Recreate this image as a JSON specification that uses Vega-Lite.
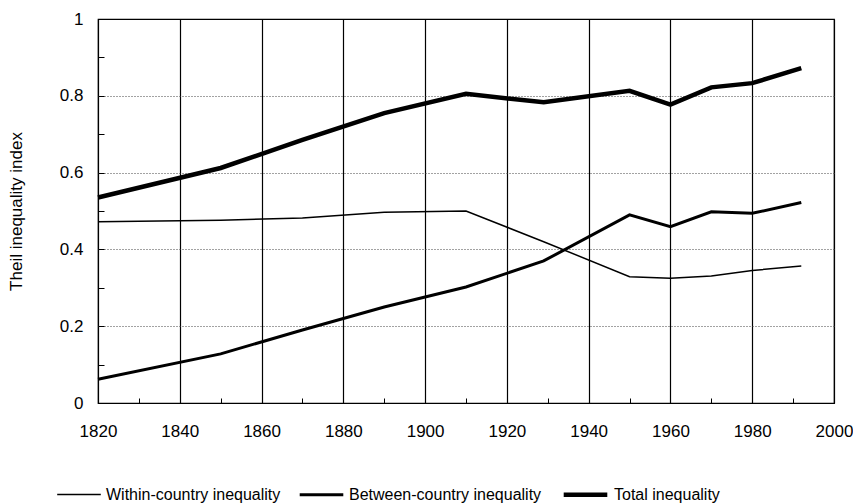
{
  "$schema": "https://vega.github.io/schema/vega-lite/v6.json",
  "width": 736,
  "height": 384,
  "autosize": "none",
  "padding": {"left": 98, "top": 19, "right": 19, "bottom": 100},
  "background": "white",
  "config": {
    "font": "Liberation Sans",
    "view": {"stroke": "black", "strokeWidth": 1.2},
    "axis": {"labelFont": "Liberation Sans", "titleFont": "Liberation Sans", "labelColor": "black", "titleColor": "black", "domain": false}
  },
  "data": {
    "values": [
      {"year": 1820, "series": "Within-country inequality", "value": 0.472},
      {"year": 1850, "series": "Within-country inequality", "value": 0.476},
      {"year": 1870, "series": "Within-country inequality", "value": 0.482},
      {"year": 1890, "series": "Within-country inequality", "value": 0.497},
      {"year": 1910, "series": "Within-country inequality", "value": 0.5},
      {"year": 1929, "series": "Within-country inequality", "value": 0.42},
      {"year": 1950, "series": "Within-country inequality", "value": 0.329},
      {"year": 1960, "series": "Within-country inequality", "value": 0.325},
      {"year": 1970, "series": "Within-country inequality", "value": 0.331},
      {"year": 1980, "series": "Within-country inequality", "value": 0.345},
      {"year": 1992, "series": "Within-country inequality", "value": 0.357},
      {"year": 1820, "series": "Between-country inequality", "value": 0.062},
      {"year": 1850, "series": "Between-country inequality", "value": 0.128},
      {"year": 1870, "series": "Between-country inequality", "value": 0.19},
      {"year": 1890, "series": "Between-country inequality", "value": 0.25},
      {"year": 1910, "series": "Between-country inequality", "value": 0.302},
      {"year": 1929, "series": "Between-country inequality", "value": 0.37},
      {"year": 1950, "series": "Between-country inequality", "value": 0.49},
      {"year": 1960, "series": "Between-country inequality", "value": 0.459},
      {"year": 1970, "series": "Between-country inequality", "value": 0.498},
      {"year": 1980, "series": "Between-country inequality", "value": 0.494},
      {"year": 1992, "series": "Between-country inequality", "value": 0.522},
      {"year": 1820, "series": "Total inequality", "value": 0.535},
      {"year": 1850, "series": "Total inequality", "value": 0.612},
      {"year": 1870, "series": "Total inequality", "value": 0.685},
      {"year": 1890, "series": "Total inequality", "value": 0.755},
      {"year": 1910, "series": "Total inequality", "value": 0.805},
      {"year": 1929, "series": "Total inequality", "value": 0.783},
      {"year": 1950, "series": "Total inequality", "value": 0.813},
      {"year": 1960, "series": "Total inequality", "value": 0.777},
      {"year": 1970, "series": "Total inequality", "value": 0.822},
      {"year": 1980, "series": "Total inequality", "value": 0.833},
      {"year": 1992, "series": "Total inequality", "value": 0.872}
    ]
  },
  "mark": {"type": "line", "strokeJoin": "miter", "strokeCap": "butt"},
  "encoding": {
    "x": {
      "field": "year", "type": "quantitative",
      "scale": {"domain": [1820, 2000], "nice": false, "zero": false},
      "axis": {
        "title": null,
        "values": [1820, 1830, 1840, 1850, 1860, 1870, 1880, 1890, 1900, 1910, 1920, 1930, 1940, 1950, 1960, 1970, 1980, 1990, 2000],
        "labelExpr": "datum.value % 20 == 0 ? datum.label : ''",
        "format": "d",
        "labelFlush": false,
        "labelFontSize": 17,
        "labelPadding": 25,
        "tickSize": -5,
        "tickColor": "black",
        "tickWidth": 1,
        "grid": true,
        "gridColor": "black",
        "gridWidth": 1.2,
        "gridOpacity": {"condition": {"test": "datum.value % 20 == 0", "value": 1}, "value": 0}
      }
    },
    "y": {
      "field": "value", "type": "quantitative",
      "scale": {"domain": [0, 1], "nice": false},
      "axis": {
        "title": "Theil inequality index",
        "titleFontSize": 17,
        "titleFontWeight": "normal",
        "titlePadding": 34,
        "values": [0, 0.1, 0.2, 0.3, 0.4, 0.5, 0.6, 0.7, 0.8, 0.9, 1],
        "labelExpr": "(round(datum.value*10) % 2 == 0) ? format(datum.value, '~g') : ''",
        "labelFontSize": 17,
        "labelPadding": 21,
        "labelFlush": false,
        "tickSize": -6,
        "tickColor": "black",
        "tickWidth": 1,
        "grid": true,
        "gridColor": "#444444",
        "gridWidth": 1,
        "gridDash": [1, 2],
        "gridOpacity": {"condition": {"test": "round(datum.value*10) % 2 == 0 && datum.value > 0 && datum.value < 1", "value": 1}, "value": 0}
      }
    },
    "color": {
      "field": "series", "type": "nominal",
      "scale": {"domain": ["Within-country inequality", "Between-country inequality", "Total inequality"], "range": ["black", "black", "black"]},
      "legend": {
        "title": null, "orient": "none", "direction": "horizontal",
        "legendX": -42, "legendY": 451,
        "symbolType": "stroke", "symbolSize": 1900,
        "labelFontSize": 16, "labelFont": "Liberation Sans", "labelColor": "black",
        "labelOffset": 4, "columnPadding": 12, "labelLimit": 300
      }
    },
    "strokeWidth": {
      "field": "series", "type": "nominal",
      "scale": {"domain": ["Within-country inequality", "Between-country inequality", "Total inequality"], "range": [1.5, 4.5, 6]},
      "legend": {
        "title": null, "orient": "none", "direction": "horizontal",
        "legendX": -42, "legendY": 451,
        "symbolType": "stroke", "symbolSize": 1900,
        "labelFontSize": 16, "labelFont": "Liberation Sans", "labelColor": "black",
        "labelOffset": 4, "columnPadding": 12, "labelLimit": 300
      }
    }
  }
}
